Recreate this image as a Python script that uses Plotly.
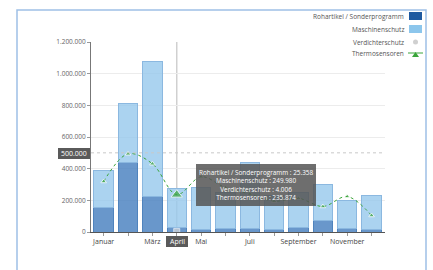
import plotly.graph_objects as go

months = ["Januar", "Februar", "März", "April", "Mai", "Juni", "Juli",
          "August", "September", "Oktober", "November", "Dezember"]
rohartikel = [152000, 437000, 222000, 25358, 17000, 25000, 25000, 13000, 27000, 70000, 25000, 17000]
maschinenschutz = [239000, 376000, 853000, 249980, 264000, 225000, 417000, 217000, 223000, 228000, 172000, 213000]
verdichterschutz = [3000, 4000, 5000, 4006, 3000, 3500, 4000, 3000, 3500, 4000, 3000, 3000]
thermosensoren = [319000, 494000, 431000, 235874, 349000, 280000, 240000, 195000, 213000, 161000, 224000, 104000]
tick_labels = ["Januar", "", "März", "", "Mai", "", "Juli", "", "September", "", "November", ""]
ytick_vals = [0, 200000, 400000, 600000, 800000, 1000000, 1200000]
ytick_text = ["0", "200.000", "400.000", "600.000", "800.000", "1.000.000", "1.200.000"]
hover_month = "April"
crosshair_value = 500000

W, H = 433, 270
L, R, T, B = 91, 48, 42, 38
pw, ph = W - L - R, H - T - B


def px(x):
    return (x - L) / pw


def py(y):
    return (H - B - y) / ph


FONT = "Open Sans"
fig = go.Figure()
fig.add_trace(go.Bar(x=months, y=rohartikel, name="Rohartikel / Sonderprogramm",
                     marker=dict(color="rgba(72,128,192,0.82)", line=dict(color="#4f83bd", width=1))))
fig.add_trace(go.Bar(x=months, y=maschinenschutz, name="Maschinenschutz",
                     marker=dict(color="rgba(150,200,236,0.8)", line=dict(color="#8bb8e0", width=1))))
fig.add_trace(go.Scatter(x=months, y=verdichterschutz, name="Verdichterschutz", mode="markers",
                         marker=dict(color="#d9d9d9", size=[0, 0, 0, 6, 0, 0, 0, 0, 0, 0, 0, 0], symbol="square")))
fig.add_trace(go.Scatter(x=months, y=thermosensoren, name="Thermosensoren", mode="lines+markers",
                         line=dict(color="#3aa53a", width=1, dash="dot", shape="spline"),
                         marker=dict(color="#3aa53a", symbol="triangle-up",
                                     size=[5, 5, 5, 10, 5, 5, 5, 5, 5, 5, 5, 5])))

hi = months.index(hover_month)
shapes = [
    dict(type="line", xref="x", yref="paper", x0=hi, x1=hi, y0=0, y1=1,
         line=dict(color="#d0d0d0", width=1.5), layer="below"),
    dict(type="line", xref="paper", yref="y", x0=0, x1=1, y0=crosshair_value, y1=crosshair_value,
         line=dict(color="#c8c8c8", width=1, dash="dot")),
    dict(type="rect", xref="paper", yref="paper", x0=px(17), x1=px(426), y0=py(285), y1=py(10),
         line=dict(color="#9ec0e6", width=1.5)),
    dict(type="rect", xref="paper", yref="paper", x0=px(196), x1=px(316), y0=py(206), y1=py(164),
         line=dict(width=0), fillcolor="rgba(85,85,85,0.85)"),
    dict(type="rect", xref="paper", yref="paper", x0=px(58), x1=px(90), y0=py(159), y1=py(148),
         line=dict(width=0), fillcolor="#5a5a5a"),
    dict(type="rect", xref="paper", yref="paper", x0=px(166), x1=px(188), y0=py(247), y1=py(236),
         line=dict(width=0), fillcolor="#5a5a5a"),
]

annotations = [
    dict(xref="paper", yref="paper", x=px(74), y=py(153.5), text="500.000", showarrow=False,
         xanchor="center", yanchor="middle",
         font=dict(color="white", size=7, family=FONT)),
    dict(xref="paper", yref="paper", x=px(177), y=py(241.5), text=hover_month, showarrow=False,
         xanchor="center", yanchor="middle",
         font=dict(color="white", size=7, family=FONT)),
    dict(xref="paper", yref="paper", x=px(256), y=py(185), showarrow=False, align="center",
         xanchor="center", yanchor="middle",
         text=("Rohartikel / Sonderprogramm : 25.358<br>Maschinenschutz : 249.980<br>"
               "Verdichterschutz : 4.006<br>Thermosensoren : 235.874"),
         font=dict(color="white", size=6.4, family=FONT)),
]

legend_items = [
    ("Rohartikel / Sonderprogramm", 16, "#1f5aa0", "rect"),
    ("Maschinenschutz", 29, "#8cc6ec", "rect"),
    ("Verdichterschutz", 42, "#d0d0d0", "circle"),
    ("Thermosensoren", 54, "#3aa53a", "tri"),
]
for name, y, col, kind in legend_items:
    annotations.append(dict(xref="paper", yref="paper", x=px(406), y=py(y), xanchor="right",
                            yanchor="middle", text=name, showarrow=False,
                            font=dict(color="#555", size=6.5, family=FONT)))
    if kind == "rect":
        shapes.append(dict(type="rect", xref="paper", yref="paper", x0=px(409), x1=px(422),
                           y0=py(y + 4), y1=py(y - 4), fillcolor=col, line=dict(width=0)))
    elif kind == "circle":
        shapes.append(dict(type="circle", xref="paper", yref="paper", x0=px(413), x1=px(418),
                           y0=py(y + 2.5), y1=py(y - 2.5), fillcolor=col, line=dict(width=0)))
    else:
        shapes.append(dict(type="line", xref="paper", yref="paper", x0=px(408), x1=px(423),
                           y0=py(y - 1), y1=py(y - 1), line=dict(color=col, width=1)))
        shapes.append(dict(type="path", xref="paper", yref="paper",
                           path=f"M {px(412)} {py(y+3)} L {px(419)} {py(y+3)} L {px(415.5)} {py(y-2)} Z",
                           fillcolor=col, line=dict(width=0)))

fig.update_layout(
    width=W, height=H, barmode="stack", bargap=0.2, showlegend=False,
    margin=dict(l=L, r=R, t=T, b=B, pad=0),
    paper_bgcolor="white", plot_bgcolor="white",
    font=dict(family=FONT, size=7, color="#555"),
    shapes=shapes, annotations=annotations, hovermode=False,
    xaxis=dict(type="category", tickmode="array", tickvals=months, ticktext=tick_labels,
               range=[-0.52, 11.55], showline=True, linecolor="#555", linewidth=1,
               ticks="outside", ticklen=3, tickcolor="#999", showgrid=False,
               tickfont=dict(size=7, color="#444", family=FONT)),
    yaxis=dict(range=[0, 1200000], tickvals=ytick_vals, ticktext=ytick_text,
               showline=True, linecolor="#777", linewidth=1, gridcolor="#ececec",
               ticks="outside", ticklen=3, tickcolor="#999", zeroline=False,
               tickfont=dict(size=6.5, color="#666", family=FONT)),
)

fig.write_html("out.html", config={"displayModeBar": False, "staticPlot": True},
               post_script="document.body.style.margin='0';document.body.style.overflow='hidden';")
